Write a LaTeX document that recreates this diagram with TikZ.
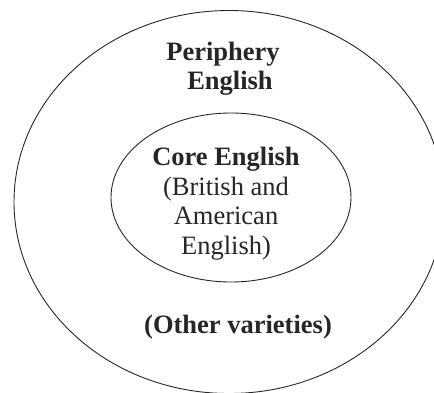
\documentclass[tikz,border=0pt]{standalone}
\usepackage{fontspec}
\setmainfont{Liberation Serif}
\begin{document}
\begin{tikzpicture}[x=1pt,y=-1pt,
  ring/.style={draw=black!85,line width=0.9pt},
  lbl/.style={anchor=base,inner sep=0pt,text=black!85,font=\fontsize{26.5}{29.5}\selectfont},
  blbl/.style={lbl,font=\fontsize{26.5}{29.5}\selectfont\bfseries}]
\useasboundingbox (0,0) rectangle (434,392);
\begin{scope}
\clip (0,0) rectangle (434,392);
\draw[ring] (229,202) ellipse [x radius=215, y radius=191.5];
\end{scope}
\draw[ring] (231,197.5) ellipse [x radius=120, y radius=84.5];
\node[blbl] (p1) at (223,60) {Periphery};
\node[blbl] (p2) at (230,89) {English};
\node[blbl] (c1) at (226,165) {Core English};
\node[lbl] (c2) at (226,195) {(British and};
\node[lbl] (c3) at (226,224.5) {American};
\node[lbl] (c4) at (226,254.5) {English)};
\node[blbl] (o) at (238,333) {(Other varieties)};
\end{tikzpicture}
\end{document}
